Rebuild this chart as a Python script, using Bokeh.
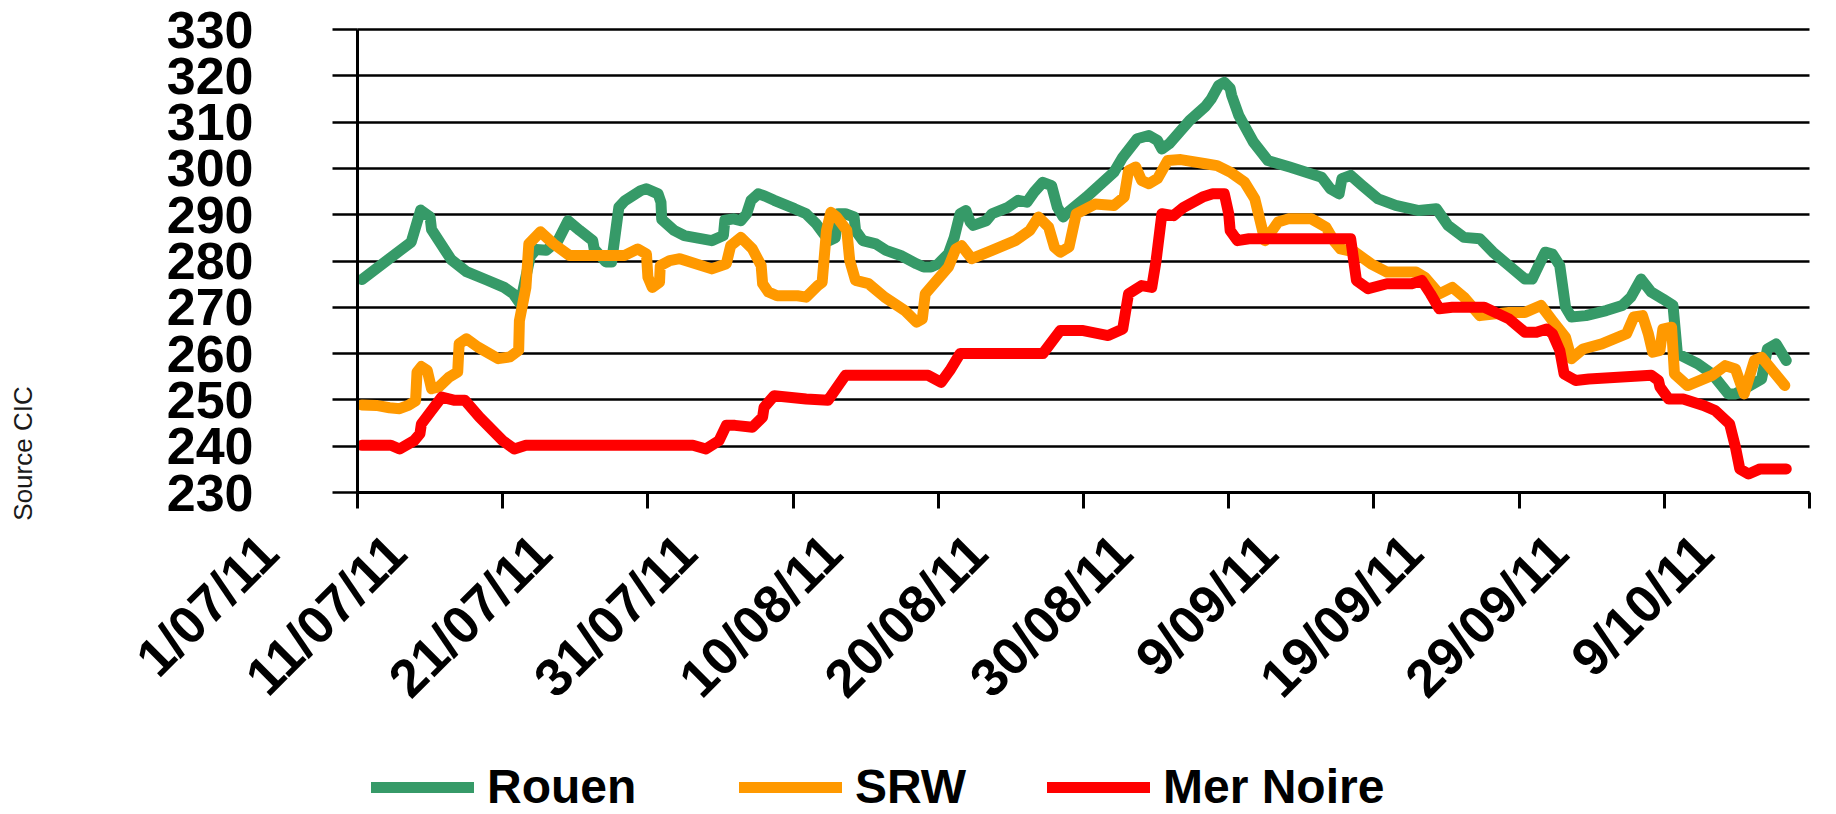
from math import pi
from bokeh.plotting import figure
from bokeh.core.properties import value
from bokeh.models import (ColumnDataSource, Range1d, FixedTicker, LinearAxis, Grid,
                          LabelSet, Label, Legend, LegendItem)
from bokeh.embed import file_html
from bokeh.resources import INLINE

# ---------------- data (x = days since 1 July 2011) ----------------
tick_days = [0, 10, 20, 30, 40, 50, 60, 70, 80, 90, 100]
tick_labels = ["1/07/11", "11/07/11", "21/07/11", "31/07/11", "10/08/11", "20/08/11",
               "30/08/11", "9/09/11", "19/09/11", "29/09/11", "9/10/11"]
y_ticks = [230, 240, 250, 260, 270, 280, 290, 300, 310, 320, 330]

rouen_day = [0.3, 3.7, 4.35, 5.0, 5.1, 6.45, 7.5, 8.9, 10.1, 10.7, 11.2, 11.9, 12.3, 13.0, 13.8,
             14.5, 15.3, 16.2, 16.3, 17.1, 17.5, 18.0, 18.4, 19.5, 19.9, 20.7, 20.9, 20.95, 21.8,
             22.5, 24.4, 25.2, 25.3, 25.9, 26.4, 26.8, 27.1, 27.6, 28.0, 28.7, 30.1, 30.9, 31.6,
             32.1, 32.5, 32.9, 33.1, 33.6, 34.2, 34.3, 34.8, 35.7, 36.4, 37.4, 38.5, 39.0, 39.5,
             40.0, 40.7, 41.1, 41.5, 41.9, 42.2, 42.4, 43.3, 43.7, 44.8, 45.5, 46.1, 46.6, 47.2,
             47.8, 48.2, 48.6, 48.8, 50.2, 52.1, 52.7, 53.7, 54.5, 55.1, 55.4, 55.9, 57.3, 58.4,
             58.8, 59.3, 59.7, 60.1, 60.2, 60.7, 61.7, 62.7, 64.2, 66.4, 67.0, 67.6, 67.8, 68.4,
             69.2, 70.3, 71.5, 73.1, 74.3, 75.1, 76.2, 77.3, 78.2, 79.3, 80.4, 80.9, 81.4, 81.8,
             82.3, 82.8, 83.2, 83.6, 84.6, 86.0, 87.1, 87.7, 88.4, 89.1, 89.9, 90.6, 90.9, 92.3,
             93.3, 94.4, 94.9, 96.7, 97.1, 97.7, 98.4]
rouen_val = [276.0, 284.1, 291.0, 289.5, 286.8, 280.3, 277.7, 275.9, 274.3, 273.0, 270.8, 281.0,
             282.5, 282.3, 284.4, 288.7, 286.6, 284.4, 282.6, 279.8, 279.8, 291.6, 293.0, 295.2,
             295.6, 294.5, 292.7, 289.0, 286.6, 285.5, 284.4, 285.5, 288.8, 289.1, 288.7, 290.2,
             293.1, 294.5, 294.1, 293.1, 291.3, 290.2, 288.0, 285.9, 284.4, 285.0, 290.2, 290.2,
             289.5, 286.6, 284.4, 283.7, 282.3, 281.2, 279.4, 278.7, 278.7, 279.4, 281.6, 285.1,
             290.2, 290.9, 288.4, 287.7, 288.7, 290.2, 291.6, 293.1, 292.7, 294.9, 297.0, 296.3,
             291.6, 289.5, 290.2, 293.8, 299.2, 302.4, 306.4, 307.1, 306.0, 304.2, 305.3, 310.3,
             313.4, 315.0, 317.9, 318.6, 317.3, 315.8, 311.4, 305.7, 301.7, 300.3, 298.1, 295.6,
             294.5, 297.8, 298.5, 296.3, 293.4, 292.0, 290.9, 291.3, 287.7, 285.1, 284.8, 281.9,
             279.0, 276.1, 276.1, 279.4, 281.9, 281.5, 279.0, 270.0, 267.9, 268.2, 269.3, 270.4,
             272.2, 276.1, 273.3, 271.8, 270.4, 260.0, 257.8, 255.6, 251.3, 251.3, 254.5, 261.0,
             262.1, 258.5]

srw_day = [0.3, 1.3, 2.2, 2.9, 3.5, 4.0, 4.1, 4.4, 4.8, 5.1, 5.6, 6.3, 6.9, 7.0, 7.5, 8.3, 9.7,
           10.5, 11.1, 11.15, 11.6, 11.8, 12.6, 13.5, 14.6, 18.4, 19.3, 19.9, 20.0, 20.3, 20.8,
           20.85, 21.5, 22.2, 24.4, 25.4, 25.7, 26.4, 27.2, 27.8, 27.9, 28.3, 28.9, 30.3, 30.9,
           31.7, 32.0, 32.3, 32.6, 33.0, 33.7, 33.9, 34.3, 35.2, 36.3, 37.7, 38.5, 38.9, 39.1,
           39.9, 40.7, 41.2, 41.6, 42.3, 43.7, 45.3, 46.3, 46.9, 47.6, 48.0, 48.4, 49.0, 49.5,
           50.8, 52.1, 52.8, 53.1, 53.6, 54.0, 54.5, 55.1, 55.8, 56.7, 58.4, 59.2, 60.1, 61.1,
           61.8, 62.5, 63.4, 64.1, 65.7, 66.7, 67.3, 67.7, 68.7, 69.8, 70.9, 72.9, 73.5, 74.5,
           75.4, 76.2, 77.3, 79.3, 80.4, 81.5, 82.3, 83.2, 83.6, 84.4, 85.7, 87.4, 87.9, 88.5,
           88.9, 89.2, 89.7, 89.9, 90.5, 90.7, 91.6, 93.3, 94.2, 94.9, 95.5, 96.2, 96.7, 98.3]
srw_val = [248.9, 248.8, 248.3, 248.1, 248.8, 249.8, 256.0, 257.2, 256.4, 252.4, 252.8, 254.9,
           256.0, 262.1, 263.2, 261.4, 258.9, 259.3, 260.7, 267.1, 274.3, 283.7, 286.3, 283.7,
           281.2, 281.2, 282.6, 281.5, 276.5, 274.3, 275.4, 279.0, 280.1, 280.5, 278.3, 279.4,
           283.3, 285.1, 282.6, 279.0, 275.1, 273.3, 272.5, 272.5, 272.2, 274.7, 275.4, 286.6,
           290.5, 289.5, 286.6, 280.1, 275.8, 275.1, 272.2, 269.3, 266.8, 267.5, 272.9, 275.8,
           278.7, 282.6, 283.3, 280.5, 282.3, 284.4, 286.6, 289.5, 287.3, 283.0, 281.9, 283.0,
           290.2, 292.3, 292.0, 293.8, 299.5, 300.3, 297.4, 296.7, 297.8, 301.7, 301.9, 301.0,
           300.6, 299.2, 297.0, 293.4, 284.4, 288.4, 289.1, 289.1, 287.3, 284.1, 282.6, 281.9,
           279.4, 277.6, 277.6, 276.5, 272.9, 274.3, 272.2, 268.2, 268.9, 268.9, 270.4, 267.1,
           263.5, 258.9, 261.0, 262.1, 264.3, 267.9, 268.2, 264.3, 260.3, 260.7, 265.3, 265.7,
           255.6, 253.1, 255.3, 257.4, 256.7, 251.3, 258.5, 259.2, 253.1]

mer_day = [0.3, 2.3, 2.9, 3.9, 4.3, 4.4, 5.1, 5.8, 6.7, 7.4, 8.4, 10.0, 10.8, 11.6, 23.1, 24.0,
           24.9, 25.4, 26.0, 27.2, 27.9, 28.0, 28.7, 30.9, 32.4, 33.6, 39.3, 40.2, 40.8, 41.5,
           47.2, 48.4, 49.9, 51.7, 52.7, 53.1, 54.0, 54.7, 55.0, 55.4, 56.2, 56.9, 58.2, 58.9,
           59.7, 60.0, 60.1, 60.6, 61.4, 68.4, 68.8, 69.6, 70.9, 72.6, 73.3, 73.9, 74.5, 75.4,
           77.6, 79.3, 80.4, 81.2, 81.9, 82.3, 82.8, 83.1, 83.9, 84.8, 89.1, 89.6, 89.7, 90.3,
           91.3, 92.7, 93.5, 94.5, 94.9, 95.2, 95.8, 96.6, 98.4]
mer_val = [240.2, 240.2, 239.4, 241.2, 242.7, 244.8, 247.7, 250.6, 249.9, 249.9, 246.3, 241.2,
           239.4, 240.2, 240.2, 239.4, 241.2, 244.5, 244.5, 244.1, 246.3, 248.4, 250.9, 250.2,
           249.9, 255.3, 255.3, 253.8, 256.4, 260.0, 260.0, 265.0, 265.0, 263.9, 265.3, 272.9,
           274.7, 274.3, 280.1, 290.2, 289.8, 291.6, 293.8, 294.5, 294.5, 290.2, 286.6, 284.4,
           284.8, 284.8, 275.8, 274.0, 275.1, 275.1, 275.8, 272.9, 269.7, 270.0, 270.0, 267.5,
           264.6, 264.6, 265.3, 264.3, 260.7, 255.6, 254.2, 254.5, 255.3, 254.2, 252.8, 250.2,
           250.2, 248.8, 247.7, 244.8, 239.8, 235.1, 234.0, 235.1, 235.1]

series_names = ["Rouen", "SRW", "Mer Noire"]
series_colors = ["#369A68", "#FF9900", "#FF0000"]

# ---------------- layout (pixels) ----------------
W, H = 1836, 814
PL, PR, PT, PB = 357, 1809, 29, 492          # plot-area edges on the page
X0, X1 = tick_days[0], tick_days[-1]
Y0, Y1 = y_ticks[0], y_ticks[-1]
sx = (PR - PL) / (X1 - X0)
sy = (PB - PT) / (Y1 - Y0)
x_range = Range1d(X0 - PL / sx, X1 + (W - PR) / sx)
y_range = Range1d(Y0 - (H - PB) / sy, Y1 + PT / sy)

FONT = "Liberation Sans"
p = figure(width=W, height=H, output_backend="svg", toolbar_location=None,
           x_range=x_range, y_range=y_range, x_axis_type=None, y_axis_type=None,
           min_border_left=0, min_border_right=0, min_border_top=0, min_border_bottom=0)
p.outline_line_color = None
p.background_fill_color = "white"
p.border_fill_color = "white"

# horizontal grid lines, only across the plot area
grid = Grid(dimension=1, ticker=FixedTicker(ticks=y_ticks), grid_line_color="black",
            grid_line_width=2.5)
try:
    grid.cross_bounds = (X0, X1)
    p.add_layout(grid)
except AttributeError:
    p.segment(x0=[X0] * len(y_ticks), x1=[X1] * len(y_ticks), y0=y_ticks, y1=y_ticks,
              line_color="black", line_width=2.5)

yaxis = LinearAxis(ticker=FixedTicker(ticks=y_ticks), fixed_location=X0, bounds=(Y0, Y1))
yaxis.major_label_text_font = FONT
yaxis.major_label_text_font_style = "bold"
yaxis.major_label_text_font_size = "52px"
yaxis.major_label_text_color = "black"
yaxis.major_label_standoff = 79
yaxis.major_tick_out = 25
yaxis.major_tick_in = 0
yaxis.major_tick_line_width = 2.5
yaxis.minor_tick_line_color = None
yaxis.axis_line_width = 3
p.add_layout(yaxis, "left")

xaxis = LinearAxis(ticker=FixedTicker(ticks=tick_days), fixed_location=Y0, bounds=(X0, X1))
xaxis.major_label_overrides = {d: "" for d in tick_days}
xaxis.major_label_text_alpha = 0
xaxis.major_tick_out = 16
xaxis.major_tick_in = 0
xaxis.major_tick_line_width = 3
xaxis.minor_tick_line_color = None
xaxis.axis_line_width = 3
p.add_layout(xaxis, "below")

renderers = []
for days, vals, color in [(rouen_day, rouen_val, series_colors[0]),
                          (srw_day, srw_val, series_colors[1]),
                          (mer_day, mer_val, series_colors[2])]:
    src = ColumnDataSource(dict(x=days, y=vals))
    r = p.line("x", "y", source=src, line_color=color, line_width=11,
               line_join="round", line_cap="round")
    renderers.append(r)

# rotated date labels (first one nudged right, as in the original)
label_dx = [-76] + [-93] * (len(tick_days) - 1)
lab_src = ColumnDataSource(dict(x=tick_days, y=[Y0] * len(tick_days), text=tick_labels,
                                dx=label_dx))
labels = LabelSet(x="x", y="y", text="text", source=lab_src, angle=pi / 4,
                  text_align="right", text_baseline="alphabetic",
                  x_offset="dx", y_offset=-64,
                  text_font=value(FONT), text_font_style="bold", text_font_size="53px",
                  text_color="black")
p.add_layout(labels)

# source note
p.add_layout(Label(x=22, y=H - 453, x_units="screen", y_units="screen", text="Source CIC",
                   angle=pi / 2, text_align="center", text_baseline="middle",
                   text_font=FONT, text_font_size="26px", text_color="#1a1a1a"))

# legend: one entry each
for name, r, vx in zip(series_names, renderers, [371, 739, 1047]):
    leg = Legend(items=[LegendItem(label=name, renderers=[r])], location=(vx, 0),
                 orientation="horizontal", padding=0, margin=0, spacing=0,
                 glyph_width=103, glyph_height=54, label_height=54, label_standoff=13,
                 label_text_font=FONT, label_text_font_style="bold",
                 label_text_font_size="48px", label_text_color="black",
                 border_line_color=None, background_fill_alpha=0)
    p.add_layout(leg)

open("out.html", "w").write(file_html(p, INLINE))
